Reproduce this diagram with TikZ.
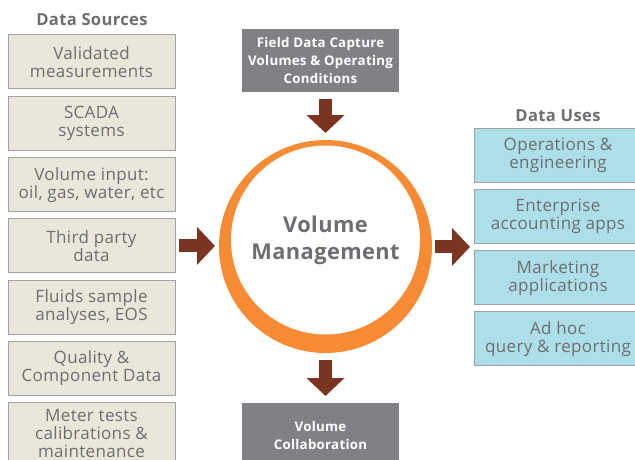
\documentclass[tikz,border=0pt]{standalone}
\usepackage{fontspec}
\setsansfont{Open Sans}[LetterSpace=2]
\renewcommand{\familydefault}{\sfdefault}
\usepackage{xcolor}
\usetikzlibrary{positioning,calc,arrows.meta}

\definecolor{srcfill}{HTML}{E9E7D9}
\definecolor{usefill}{HTML}{ADDFE8}
\definecolor{boxline}{HTML}{A0A1A3}
\definecolor{capfill}{HTML}{808184}
\definecolor{txtgray}{HTML}{6D6E71}
\definecolor{arrowbrown}{HTML}{7B3420}
\definecolor{vmorange}{HTML}{F68B33}

\begin{document}
\begin{tikzpicture}[x=1pt,y=-1pt,
node distance=7.3pt,
srcbox/.style={rectangle, draw=boxline, fill=srcfill, line width=1pt, minimum width=167pt, minimum height=54pt, align=center, text=txtgray, font=\fontsize{17}{18}\selectfont, inner sep=2pt, outer sep=0pt},
usebox/.style={srcbox, fill=usefill, minimum width=168pt},
capbox/.style={rectangle, fill=capfill, minimum width=157pt, align=center, text=white, font=\bfseries\fontsize{13.3}{18}\selectfont, outer sep=0pt},
heading/.style={text=txtgray, font=\bfseries\fontsize{16.6}{18}\selectfont},
fatarrow/.style={draw=arrowbrown, line width=13pt, -{Triangle[width=37pt,length=18pt]}},
]
\useasboundingbox (0,0) rectangle (635,460);

%Data sources
\node[heading]  (srctitle) at (92,20)          {Data Sources};
\node[srcbox]   (src1) at (91.5,62)            {Validated\\measurements};
\node[srcbox]   (src2) [below=of src1]         {SCADA\\systems};
\node[srcbox]   (src3) [below=of src2]         {Volume input:\\oil, gas, water, etc};
\node[srcbox]   (src4) [below=of src3]         {Third party\\data};
\node[srcbox]   (src5) [below=of src4]         {Fluids sample\\analyses, EOS};
\node[srcbox]   (src6) [below=of src5]         {Quality \&\\Component Data};
\node[srcbox, minimum height=61pt] (src7) [below=of src6] {Meter tests\\calibrations \&\\maintenance};

%Field data and collaboration
\node[capbox, minimum height=63pt] (cap) at (320.5,60.5) {Field Data Capture\\Volumes \& Operating\\Conditions};
\node[capbox, minimum height=65pt, anchor=north] (collab) at (320.5,403) {Volume\\Collaboration};

%Volume management
\node[circle, fill=vmorange, minimum size=213pt, outer sep=0pt] (vm) at (325.5,246.5) {};
\node[circle, fill=white, minimum size=189pt, outer sep=0pt, align=center, text=txtgray,
      font=\bfseries\fontsize{21.8}{27}\selectfont] (vmtext) at ($(vm.center)+(0,-6.5)$) {Volume\\Management};

%Data uses
\node[heading]  (usetitle) at (558,116)        {Data Uses};
\node[usebox]   (use1) at (558,155)            {Operations \&\\engineering};
\node[usebox]   (use2) [below=of use1]         {Enterprise\\accounting apps};
\node[usebox]   (use3) [below=of use2]         {Marketing\\applications};
\node[usebox]   (use4) [below=of use3]         {Ad hoc\\query \& reporting};
\coordinate (usein) at ($(use2.south west)!0.5!(use3.north west)$);

%Arrows
\draw[fatarrow, shorten <=4pt, shorten >=4pt] (src4.east) -- (src4.east -| vm.west);
\draw[fatarrow, shorten <=3pt, shorten >=4pt] (vm.east |- usein) -- (usein);
\draw[fatarrow, shorten <=7pt, shorten >=7pt] (vm.north |- cap.south) -- (vm.north);
\draw[fatarrow, shorten <=7pt, shorten >=7pt] (vm.south) -- (vm.south |- collab.north);
\end{tikzpicture}
\end{document}
